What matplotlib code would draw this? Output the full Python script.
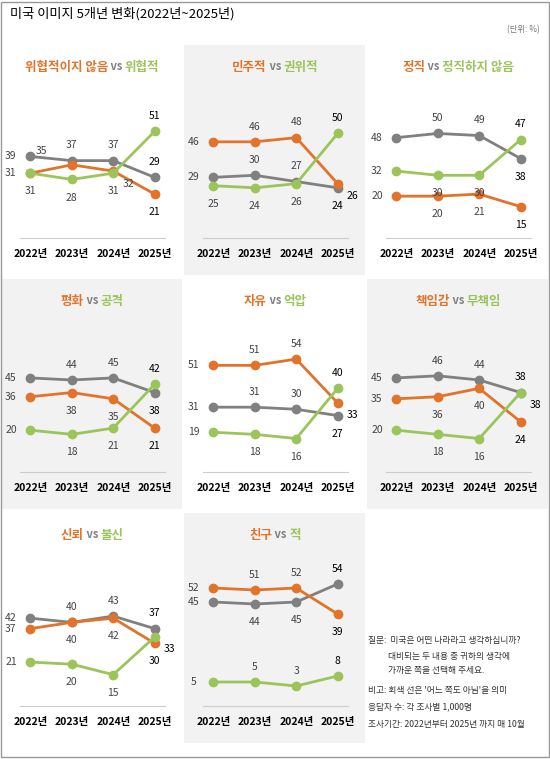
import matplotlib
matplotlib.use("Agg")
import matplotlib.pyplot as plt
from matplotlib.patches import Rectangle

plt.rcParams['font.family'] = ['Noto Sans CJK KR', 'DejaVu Sans']

years = ['2022년', '2023년', '2024년', '2025년']
titles = [('위협적이지 않음', '위협적'), ('민주적', '권위적'), ('정직', '정직하지 않음'),
          ('평화', '공격'), ('자유', '억압'), ('책임감', '무책임'),
          ('신뢰', '불신'), ('친구', '적')]
orange_vals = [[31, 35, 32, 21], [46, 46, 48, 26], [20, 20, 21, 15], [36, 38, 35, 21],
               [51, 51, 54, 33], [35, 36, 40, 24], [37, 40, 42, 30], [52, 51, 52, 39]]
green_vals = [[31, 28, 31, 51], [25, 24, 26, 50], [32, 30, 30, 47], [20, 18, 21, 42],
              [19, 18, 16, 40], [20, 18, 16, 38], [21, 20, 15, 33], [5, 5, 3, 8]]
gray_vals = [[39, 37, 37, 29], [29, 30, 27, 24], [48, 50, 49, 38], [45, 44, 45, 38],
             [31, 31, 30, 27], [45, 46, 44, 38], [42, 40, 43, 37], [45, 44, 45, 54]]

# label placement codes (gray, orange, green) per panel
pos = [
    ('LUUU', 'LXRD', 'DDDU'),
    ('LUUD', 'LUUR', 'DDDU'),
    ('LUUD', 'LDDD', 'LDDU'),
    ('LUUD', 'LDDD', 'LDDU'),
    ('LUUD', 'LUUR', 'LDDU'),
    ('LUUU', 'LDDD', 'LDDR'),
    ('LUUU', 'LDDD', 'LDDR'),
    ('LDDU', 'LUUD', 'LUUU'),
]
offs = {'L': (-14, 0), 'U': (0, 11), 'D': (0, -13), 'R': (11, -9), 'X': (-22, 10)}

OR, GR, GY = '#E2732B', '#9BC45B', '#808080'
W, H = 550, 759
fig = plt.figure(figsize=(5.5, 7.59), dpi=100)
fig.patches.append(Rectangle((0.002, 0.002), 0.996, 0.996, transform=fig.transFigure,
                             fill=False, ec='#999999', lw=1))
fig.text(10 / W, 1 - 14 / H, '미국 이미지 5개년 변화(2022년~2025년)', fontsize=9.5, va='center')
fig.text(540 / W, 1 - 30 / H, '(단위: %)', fontsize=6, color='#777777', ha='right', va='center')

def fy(y):
    return 1 - y / H

for i in range(8):
    r, c = divmod(i, 3)
    x0 = c * 183
    ytop = 45 + r * 234
    if (r + c) % 2 == 1:
        fig.patches.append(Rectangle((x0 / W + 0.002, fy(ytop + 230)), 183 / W - 0.004, 230 / H,
                                     transform=fig.transFigure, fc='#F2F2F2', ec='none', zorder=-5))
    base = 238 + r * 234
    ax = fig.add_axes([(x0 + 20) / W, fy(base), 145 / W, 138 / H])
    ax.set_zorder(2)
    ax.set_facecolor('none')
    ax.patch.set_alpha(0)
    ylim = (-7, 62) if i == 7 else (0, 66)
    ax.set_ylim(*ylim)
    ax.set_xlim(-0.25, 3.25)
    for s in ['left', 'right', 'top']:
        ax.spines[s].set_visible(False)
    ax.spines['bottom'].set_color('#CCCCCC')
    ax.set_yticks([])
    ax.set_xticks(range(4))
    ax.set_xticklabels(years, fontsize=7.5, fontweight='bold')
    ax.tick_params(axis='x', length=0, pad=8)
    series = [(gray_vals[i], GY), (orange_vals[i], OR), (green_vals[i], GR)]
    for vals, col in series:
        ax.plot(range(4), vals, color=col, lw=2, marker='o', ms=6, zorder=3)
    for j, (vals, col) in enumerate(series):
        for k in range(4):
            dx, dy = offs[pos[i][j][k]]
            ax.annotate(str(vals[k]), (k, vals[k]), xytext=(dx, dy), textcoords='offset points',
                        ha='center', va='center', fontsize=7.5,
                        color='black' if k == 3 else '#444444')
    cx = x0 + 92
    t1, t2 = titles[i]
    ty = fy(67 + r * 234)
    tA = fig.text(0, ty, t1, fontsize=9, color=OR, fontweight='bold', va='center')
    tB = fig.text(0, ty, ' vs ', fontsize=8, color=GY, fontweight='bold', va='center')
    tC = fig.text(0, ty, t2, fontsize=9, color=GR, fontweight='bold', va='center')
    fig.canvas.draw()
    rend = fig.canvas.get_renderer()
    ws = [t.get_window_extent(rend).width for t in (tA, tB, tC)]
    start = cx - sum(ws) / 2
    for t, w_ in zip((tA, tB, tC), ws):
        t.set_x(start / W)
        start += w_

notes = [(640, '질문:  미국은 어떤 나라라고 생각하십니까?'),
         (656, '          대비되는 두 내용 중 귀하의 생각에'),
         (671, '          가까운 쪽을 선택해 주세요.'),
         (690, '비고: 회색 선은 \'어느 쪽도 아님\'을 의미'),
         (707, '응답자 수: 각 조사별 1,000명'),
         (724, '조사기간: 2022년부터 2025년 까지 매 10월')]
for y, t in notes:
    fig.text(368 / W, fy(y), t, fontsize=6.3, color='#333333', va='center')

fig.savefig('out.png', dpi=100)
